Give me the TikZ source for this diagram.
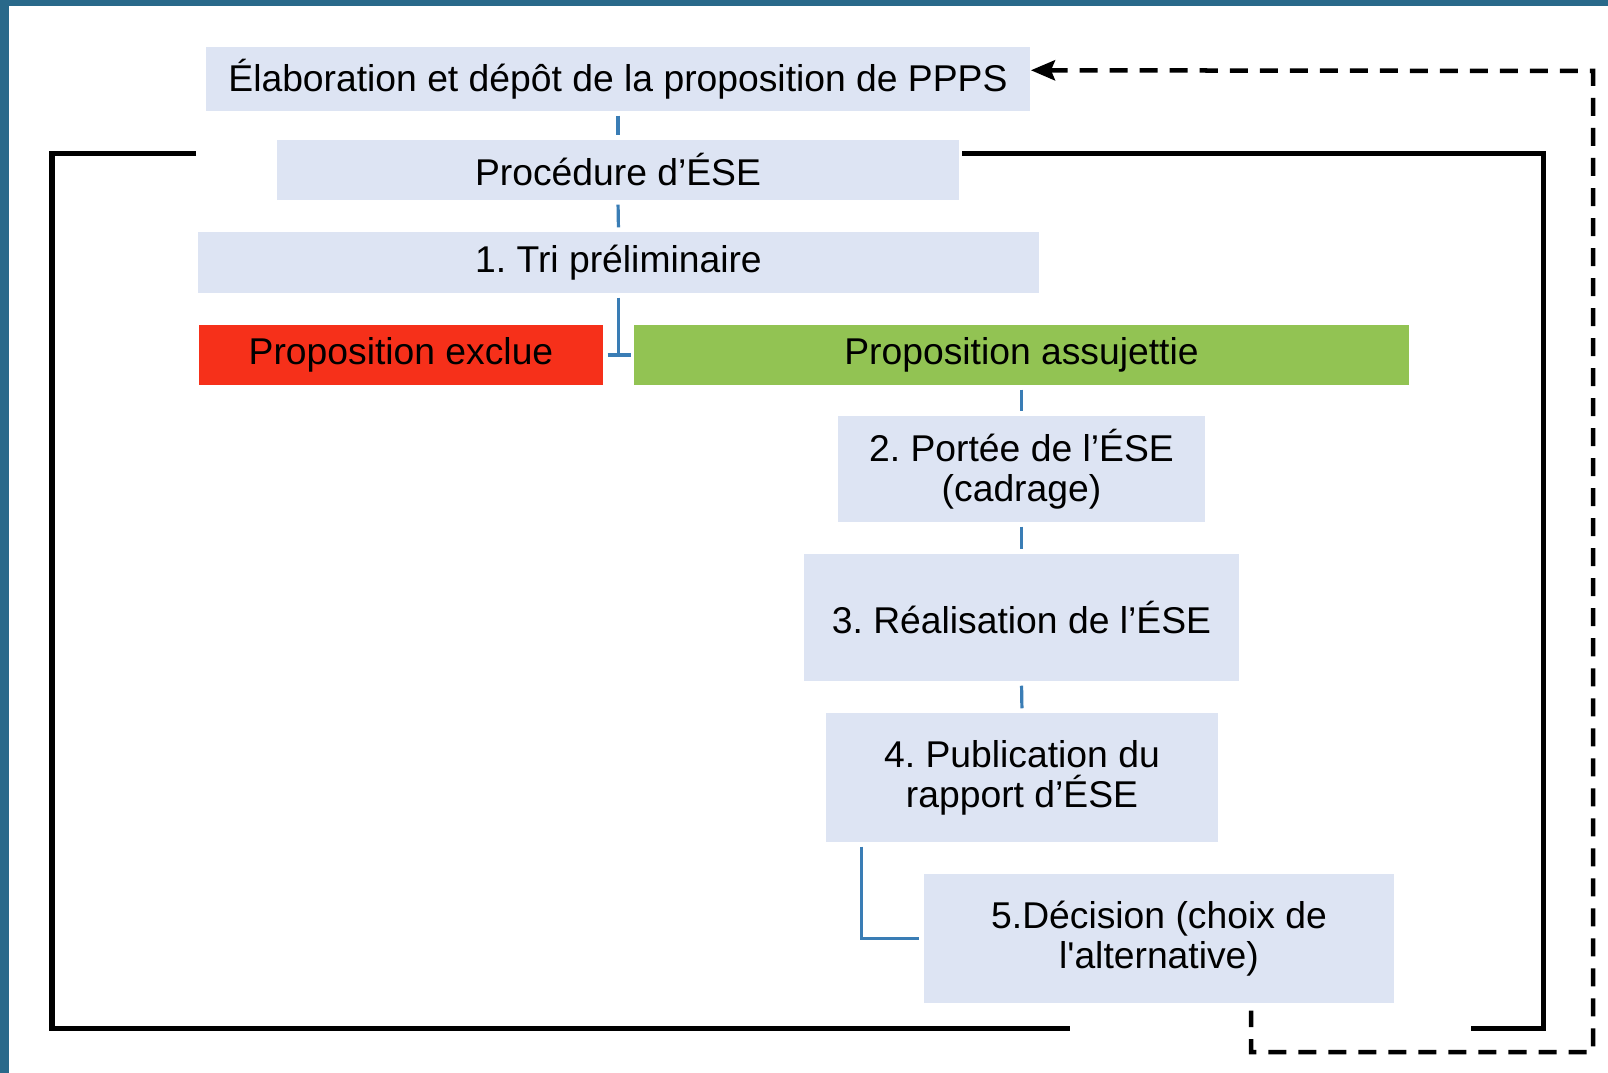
\documentclass[tikz,border=0pt]{standalone}
\usepackage{fontspec}
\setmainfont{Liberation Sans}[Ligatures=TeXOff]
\usetikzlibrary{arrows.meta,calc}
\definecolor{boxfill}{HTML}{DDE4F3}
\definecolor{exred}{HTML}{F6301A}
\definecolor{okgreen}{HTML}{92C353}
\definecolor{frameteal}{HTML}{29698A}
\definecolor{connblue}{HTML}{3A7DB5}
\frenchspacing
\begin{document}
\begin{tikzpicture}[x=0.01cm,y=-0.01cm,
  every node/.style={font=\fontsize{10.6}{11.4}\selectfont, inner sep=0pt, align=center, text=black},
  box/.style={fill=boxfill},
  conn/.style={draw=connblue, line width=0.032cm, shorten <=0.04cm, shorten >=0.04cm},
  blackframe/.style={draw=black, line width=0.05cm},
  fb/.style={draw=black, line width=0.045cm, dash pattern=on 0.18cm off 0.12cm}]
\useasboundingbox (0,0) rectangle (1608,1073);
\fill[frameteal] (0,0) rectangle (9,1073);
\fill[frameteal] (0,0) rectangle (1608,6);

\node[box, minimum width=8.24cm, minimum height=0.64cm] (b1) at (618,79) {Élaboration et dépôt de la proposition de PPPS};
\node[box, minimum width=6.82cm, minimum height=0.60cm] (b2) at (618,170) {Procédure d’ÉSE};
\node[box, minimum width=8.41cm, minimum height=0.61cm] (b3) at (618.5,262.5) {1. Tri préliminaire};
\node[fill=exred, minimum width=4.04cm, minimum height=0.60cm] (ex) at (401,355) {Proposition exclue};
\node[fill=okgreen, minimum width=7.75cm, minimum height=0.60cm] (as) at (1021.5,355) {Proposition assujettie};
\node[box, minimum width=3.67cm, minimum height=1.06cm] (s2) at (1021.5,469) {2. Portée de l’ÉSE\\(cadrage)};
\node[box, minimum width=4.35cm, minimum height=1.27cm] (s3) at (1021.5,617.5) {3. Réalisation de l’ÉSE};
\node[box, minimum width=3.92cm, minimum height=1.29cm] (s4) at (1022,777.5) {4. Publication du\\rapport d’ÉSE};
\node[box, minimum width=4.70cm, minimum height=1.29cm] (s5) at (1159,938.5) {5.Décision (choix de\\l'alternative)};

% black frame
\draw[blackframe] (196,154) -- (52,154) -- (52,1028) -- (1070,1028);
\draw[blackframe] (962,154) -- (1543,154) -- (1543,1028) -- (1471,1028);

% blue connectors
\draw[conn] (b1.south) -- (b2.north);
\draw[conn] (b2.south) -- (b3.north);
\coordinate (J) at (b3.south |- ex.east);
\draw[conn, shorten >=0pt] (b3.south) -- (J);
\draw[connblue, line width=0.032cm] ($(J)+(-11,0)$) -- ($(J)+(12,0)$);
\draw[conn] (as.south) -- (s2.north);
\draw[conn] (s2.south) -- (s3.north);
\draw[conn] (s3.south) -- (s4.north);
\draw[conn] ($(s4.south west)+(36,0)$) |- (s5.west);

% dashed feedback
\coordinate (fbs) at ($(s5.south west)+(328,0)$);
\coordinate (fbr) at (1593,1052);
\coordinate (fbt) at (1593,71);
\draw[fb, {Stealth[length=0.24cm,width=0.2cm,inset=0.04cm]}-, shorten >=0.07cm] ($(b1.north east)+(0,24)$) -- (fbt) -- (fbr) -| (fbs);
\end{tikzpicture}
\end{document}
